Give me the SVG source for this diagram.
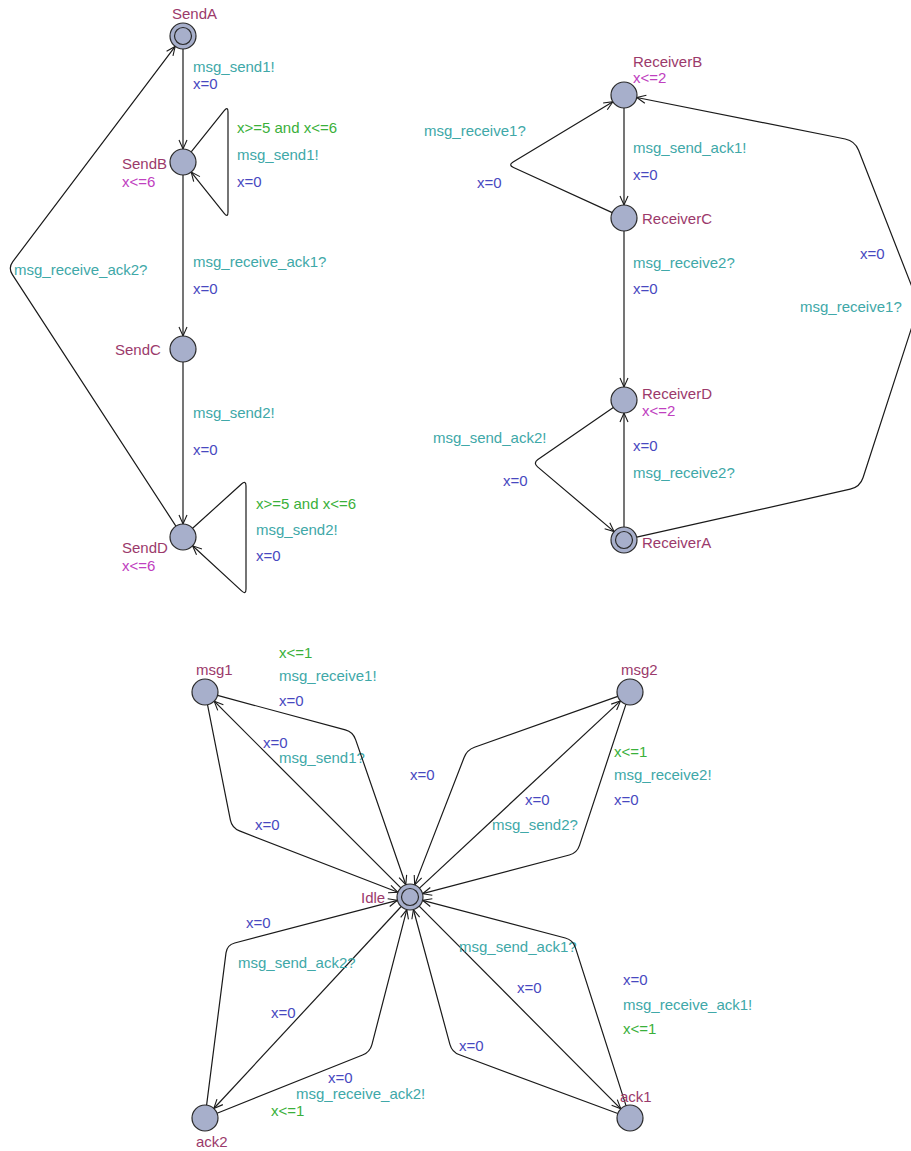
<svg xmlns="http://www.w3.org/2000/svg" width="911" height="1151" viewBox="0 0 911 1151">
<style>
text{font-family:"Liberation Sans",Arial,sans-serif;font-size:15px}
.nm{fill:#9b3a6b}.inv{fill:#c040c0}.gd{fill:#3ab03a}.sy{fill:#40a8a8}.up{fill:#4848c0}
.loc{fill:#a7afcb;stroke:#2a2a2a;stroke-width:1.2}
.in{fill:none;stroke:#2a2a2a;stroke-width:1.2}
.e{fill:none;stroke:#1a1a1a;stroke-width:1.2}
.a{marker-end:url(#arr)}
</style>
<defs>
<marker id="arr" markerWidth="12" markerHeight="10" refX="10" refY="5" orient="auto" markerUnits="userSpaceOnUse"><path d="M1,1 L10,5 L1,9" fill="none" stroke="#1a1a1a" stroke-width="1.1"/></marker>
</defs>
<rect width="911" height="1151" fill="#fff"/>
<g id="edges">
<g id="e-sendA-sendB"><path class="e a" d="M183,49 L183,149"/><text class="sy" x="193" y="72">msg_send1!</text><text class="up" x="193" y="89">x=0</text></g>
<g id="e-sendB-loop"><path class="e a" d="M191.2,151.9 L224.2,110.7 Q228,106 228,112 L228,212 Q228,218 224.2,213.3 L191.2,172.1"/><text class="gd" x="237" y="133">x&gt;=5 and x&lt;=6</text><text class="sy" x="237" y="160">msg_send1!</text><text class="up" x="237" y="187">x=0</text></g>
<g id="e-sendB-sendC"><path class="e a" d="M183,175 L183,336"/><text class="sy" x="193" y="267">msg_receive_ack1?</text><text class="up" x="193" y="294">x=0</text></g>
<g id="e-sendC-sendD"><path class="e a" d="M183,362 L183,524"/><text class="sy" x="193" y="418">msg_send2!</text><text class="up" x="193" y="455">x=0</text></g>
<g id="e-sendD-loop"><path class="e a" d="M192.6,528.3 L241.5,484 Q246,480 246,486 L246,589 Q246,595 241.6,590.9 L192.6,545.8"/><text class="gd" x="256" y="509">x&gt;=5 and x&lt;=6</text><text class="sy" x="256" y="535">msg_send2!</text><text class="up" x="256" y="561">x=0</text></g>
<g id="e-sendD-sendA"><path class="e a" d="M175.9,526.1 L12.4,274.7 Q8,268 12.8,261.6 L175.2,46.4"/><text class="sy" x="14" y="275">msg_receive_ack2?</text></g>

<g id="e-recB-recC"><path class="e a" d="M624,108 L624,205"/><text class="sy" x="633" y="153">msg_send_ack1!</text><text class="up" x="633" y="180">x=0</text></g>
<g id="e-recC-recB"><path class="e a" d="M612.2,212.6 L513.5,167.5 Q508,165 513.1,161.9 L612.9,101.7"/><text class="sy" x="424" y="136">msg_receive1?</text><text class="up" x="477" y="188">x=0</text></g>
<g id="e-recC-recD"><path class="e a" d="M624,231 L624,387"/><text class="sy" x="633" y="268">msg_receive2?</text><text class="up" x="633" y="294">x=0</text></g>
<g id="e-recA-recD"><path class="e a" d="M624,527 L624,413"/><text class="up" x="633" y="451">x=0</text><text class="sy" x="633" y="478">msg_receive2?</text></g>
<g id="e-recD-recA"><path class="e a" d="M613.3,407.4 L537.9,459.6 Q533,463 537.6,466.9 L614.1,531.6"/><text class="sy" x="433" y="443">msg_send_ack2!</text><text class="up" x="503" y="486">x=0</text></g>
<g id="e-recA-recB"><path class="e a" d="M636.7,537.2 L850.2,489.2 Q860,487 863.1,477.5 L915.9,314.5 Q919,305 915.4,295.7 L858.6,150.3 Q855,141 845.2,139 L636.8,97.5"/><text class="up" x="860" y="259">x=0</text><text class="sy" x="800" y="312">msg_receive1?</text></g>

<g id="e-idle-msg1"><path class="e a" d="M400.8,887.8 L214.2,701.2"/><text class="up" x="263" y="748">x=0</text><text class="sy" x="279" y="763">msg_send1?</text></g>
<g id="e-msg1-idle-a"><path class="e a" d="M217.5,695.4 L345.3,729.9 Q353,732 355.6,739.6 L405.8,884.7"/><text class="gd" x="279" y="658">x&lt;=1</text><text class="sy" x="279" y="681">msg_receive1!</text><text class="up" x="279" y="706">x=0</text></g>
<g id="e-msg1-idle-b"><path class="e a" d="M207.5,704.7 L230.4,820.2 Q232,828 239.5,830.9 L397.9,892.3"/><text class="up" x="255" y="830">x=0</text></g>
<g id="e-idle-msg2"><path class="e a" d="M419.5,888.1 L620.5,700.9"/><text class="up" x="525" y="805">x=0</text><text class="sy" x="492" y="830">msg_send2?</text></g>
<g id="e-msg2-idle-a"><path class="e a" d="M617.8,696.4 L474.5,747.3 Q467,750 464.1,757.5 L414.7,884.9"/><text class="up" x="410" y="780">x=0</text></g>
<g id="e-msg2-idle-b"><path class="e a" d="M625.9,704.4 L579.5,845.4 Q577,853 569.3,855 L422.6,893.7"/><text class="gd" x="614" y="757">x&lt;=1</text><text class="sy" x="614" y="780">msg_receive2!</text><text class="up" x="614" y="805">x=0</text></g>
<g id="e-idle-ack2"><path class="e a" d="M401.2,906.5 L213.8,1108.5"/><text class="sy" x="238" y="968">msg_send_ack2?</text><text class="up" x="271" y="1018">x=0</text></g>
<g id="e-ack2-idle-a"><path class="e a" d="M206.6,1105.1 L226,952.9 Q227,945 234.7,943 L397.4,900.3"/><text class="up" x="246" y="928">x=0</text></g>
<g id="e-ack2-idle-b"><path class="e a" d="M217.1,1113.2 L362.6,1055 Q370,1052 372,1044.3 L406.8,909.6"/><text class="up" x="328" y="1083">x=0</text><text class="sy" x="296" y="1099">msg_receive_ack2!</text><text class="gd" x="271" y="1116">x&lt;=1</text></g>
<g id="e-idle-ack1"><path class="e a" d="M419.2,906.2 L620.8,1108.8"/><text class="sy" x="459" y="952">msg_send_ack1?</text><text class="up" x="517" y="993">x=0</text></g>
<g id="e-ack1-idle-a"><path class="e a" d="M626,1105.6 L575.4,947.6 Q573,940 565.3,938 L422.6,900.3"/><text class="up" x="623" y="985">x=0</text><text class="sy" x="623" y="1010">msg_receive_ack1!</text><text class="gd" x="623" y="1034">x&lt;=1</text></g>
<g id="e-ack1-idle-b"><path class="e a" d="M617.8,1113.5 L459.5,1054.8 Q452,1052 449.9,1044.3 L413.4,909.5"/><text class="up" x="459" y="1051">x=0</text></g>
</g>

<g id="SendA"><circle class="loc" cx="183" cy="36" r="13"/><circle class="in" cx="183" cy="36" r="8.5"/><text class="nm" x="172" y="19">SendA</text></g>
<g id="SendB"><circle class="loc" cx="183" cy="162" r="13"/><text class="nm" x="122" y="169">SendB</text><text class="inv" x="122" y="187">x&lt;=6</text></g>
<g id="SendC"><circle class="loc" cx="183" cy="349" r="13"/><text class="nm" x="115" y="355">SendC</text></g>
<g id="SendD"><circle class="loc" cx="183" cy="537" r="13"/><text class="nm" x="122" y="553">SendD</text><text class="inv" x="122" y="571">x&lt;=6</text></g>

<g id="ReceiverB"><circle class="loc" cx="624" cy="95" r="13"/><text class="nm" x="633" y="67">ReceiverB</text><text class="inv" x="633" y="83">x&lt;=2</text></g>
<g id="ReceiverC"><circle class="loc" cx="624" cy="218" r="13"/><text class="nm" x="642" y="224">ReceiverC</text></g>
<g id="ReceiverD"><circle class="loc" cx="624" cy="400" r="13"/><text class="nm" x="642" y="399">ReceiverD</text><text class="inv" x="642" y="416">x&lt;=2</text></g>
<g id="ReceiverA"><circle class="loc" cx="624" cy="540" r="13"/><circle class="in" cx="624" cy="540" r="8.5"/><text class="nm" x="642" y="548">ReceiverA</text></g>

<g id="msg1"><circle class="loc" cx="205" cy="692" r="13"/><text class="nm" x="196" y="675">msg1</text></g>
<g id="msg2"><circle class="loc" cx="630" cy="692" r="13"/><text class="nm" x="621" y="675">msg2</text></g>
<g id="Idle"><circle class="loc" cx="410" cy="897" r="13"/><circle class="in" cx="410" cy="897" r="8.5"/><text class="nm" x="361" y="903">Idle</text></g>
<g id="ack2"><circle class="loc" cx="205" cy="1118" r="13"/><text class="nm" x="196" y="1147">ack2</text></g>
<g id="ack1"><circle class="loc" cx="630" cy="1118" r="13"/><text class="nm" x="620" y="1102">ack1</text></g>
</svg>
